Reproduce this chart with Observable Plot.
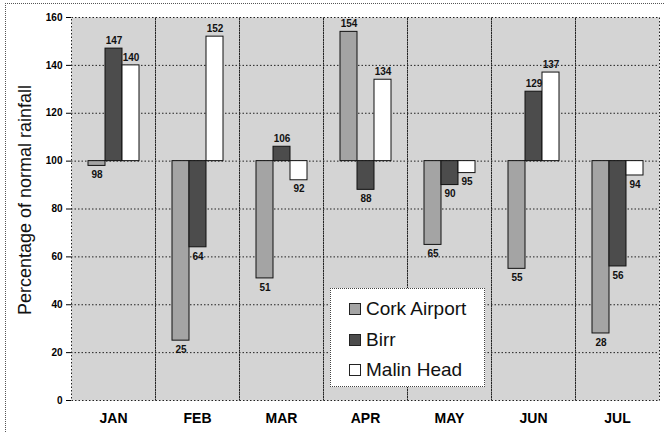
<!DOCTYPE html>
<html><head><meta charset="utf-8">
<script src="https://cdn.jsdelivr.net/npm/d3@7"></script>
<script src="https://cdn.jsdelivr.net/npm/@observablehq/plot@0.6"></script>
<style>
body{margin:0;background:#fff;}
#wrap{position:relative;width:664px;height:432px;font-family:"Liberation Sans",Arial,sans-serif;overflow:hidden;}
#wrap svg{position:absolute;left:0;top:0;}
.topline{position:absolute;left:5px;top:3px;width:659px;border-top:1px dotted #555;}
.leftline{position:absolute;left:5px;top:3px;height:429px;border-left:1px dotted #555;}
.ytitle{position:absolute;left:25px;top:200px;transform:translate(-50%,-50%) rotate(-90deg);font-size:18px;white-space:nowrap;color:#111;}
.legend{position:absolute;left:330px;top:288px;width:155px;height:99px;background:#fff;border:1px dotted #444;box-sizing:border-box;}
.item{position:absolute;left:18px;display:flex;align-items:center;font-size:19px;line-height:22px;color:#111;}
.sw{width:10px;height:10px;border:1px solid #222;margin-right:5px;}
</style></head><body><div id="wrap"></div>
<script>
const months = ["JAN","FEB","MAR","APR","MAY","JUN","JUL"];
const stations = ["Cork Airport","Birr","Malin Head"];
const cork = [98,25,51,154,65,55,28];
const birr = [147,64,106,88,90,129,56];
const malin = [140,152,92,134,95,137,94];
const yTicks = [0,20,40,60,80,100,120,140,160];
const colors = ["#a4a4a4","#4c4c4c","#ffffff"];
const baseline = 100;

const series = [cork, birr, malin];
const rows = months.flatMap((m,i)=>series.map((arr,j)=>({month:m, station:stations[j], value:arr[i]})));

const chart = Plot.plot({
  width:664, height:432,
  marginLeft:68, marginRight:2, marginTop:17, marginBottom:32,
  style:{fontFamily:"'Liberation Sans', Arial, sans-serif", background:"transparent"},
  fx:{domain:months, padding:0, label:null},
  x:{domain:stations, paddingInner:0, paddingOuter:0.95, align:0.5, axis:null},
  y:{domain:[0,160]},
  color:{domain:stations, range:colors},
  marks:[
    Plot.frame({fill:"#d4d4d4"}),
    Plot.ruleY(yTicks.slice(1,-1), {stroke:"#222", strokeDasharray:"1.5,2"}),
    Plot.frame({stroke:"#222", strokeDasharray:"1.5,2"}),
    Plot.barY(rows, {fx:"month", x:"station", y1:baseline, y2:"value", fill:"station", stroke:"#111", strokeWidth:1}),
    Plot.text(rows.filter(d=>d.value>=baseline), {fx:"month", x:"station", y:"value", text:d=>String(d.value), dy:-8, fontSize:10, fontWeight:"bold", fill:"#111"}),
    Plot.text(rows.filter(d=>d.value<baseline), {fx:"month", x:"station", y:"value", text:d=>String(d.value), dy:9, fontSize:10, fontWeight:"bold", fill:"#111"}),
    Plot.axisFx({anchor:"bottom", tickSize:0, tickPadding:13, fontSize:14, fontWeight:"bold", label:null}),
    Plot.axisY({ticks:yTicks, tickSize:5, tickPadding:4, fontSize:10, fontWeight:"bold", label:null})
  ]
});
const wrap = document.getElementById("wrap");
wrap.appendChild(chart);
wrap.insertAdjacentHTML("beforeend", `<div class="topline"></div><div class="leftline"></div><div class="ytitle">Percentage of normal rainfall</div>`);
const legend = document.createElement("div");
legend.className = "legend";
const tops = [9,40,70];
stations.forEach((s,i)=>{
  const it = document.createElement("div");
  it.className = "item";
  it.style.top = tops[i]+"px";
  it.innerHTML = `<span class="sw" style="background:${colors[i]}"></span><span>${s}</span>`;
  legend.appendChild(it);
});
wrap.appendChild(legend);
</script></body></html>
